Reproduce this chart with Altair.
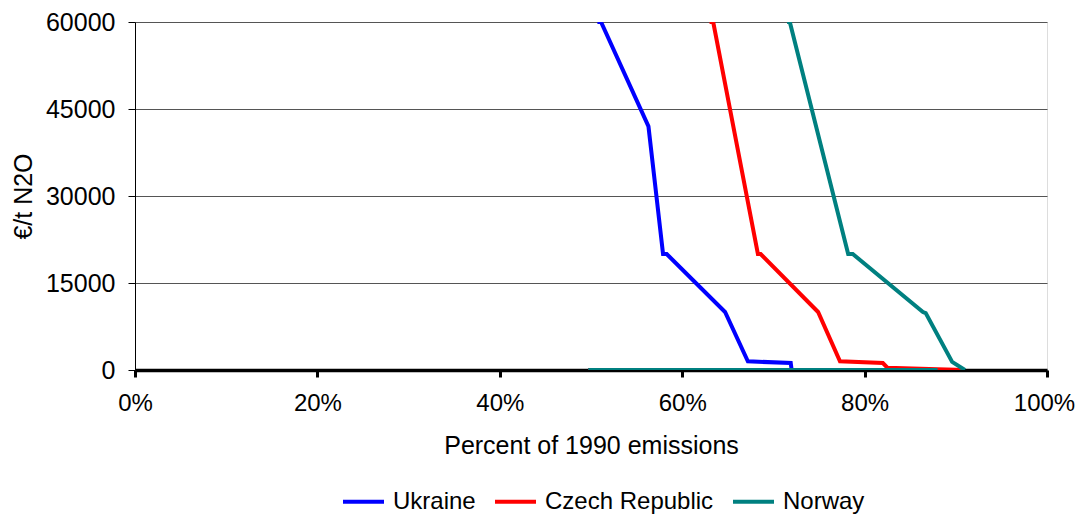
import altair as alt
import pandas as pd

series_names = ["Ukraine", "Czech Republic", "Norway"]
series_colors = ["#0000FF", "#FF0000", "#008080"]

# cost curves (percent of 1990 emissions, €/t N2O)
ukraine_x = [50.7, 51.1, 56.3, 57.9, 58.3, 64.7, 67.2, 71.9, 72.0]
ukraine_y = [60000, 60000, 42000, 20000, 20000, 10000, 1500, 1200, 0]
czech_x = [63.0, 63.4, 68.3, 68.6, 74.9, 77.3, 82.0, 82.5, 88.0, 91.0]
czech_y = [60000, 60000, 20000, 20000, 10000, 1500, 1200, 400, 150, 0]
norway_x = [71.5, 71.8, 78.2, 78.7, 86.4, 86.7, 89.6, 91.0]
norway_y = [60000, 60000, 20000, 20000, 10000, 9800, 1400, 0]

# zero-cost stretches along the axis
ukraine_zero_x = [49.7, 72.0]
czech_zero_x = [49.7, 91.0]
norway_zero_x = [49.7, 88.0]

rows = []
def add(name, seg, xs, ys):
    for i, (x, y) in enumerate(zip(xs, ys)):
        rows.append({"series": name, "seg": name + seg, "ord": i, "x": x, "y": y})

add("Ukraine", "a", ukraine_x, ukraine_y)
add("Ukraine", "z", ukraine_zero_x, [0] * len(ukraine_zero_x))
add("Czech Republic", "a", czech_x, czech_y)
add("Czech Republic", "z", czech_zero_x, [0] * len(czech_zero_x))
add("Norway", "a", norway_x, norway_y)
add("Norway", "z", norway_zero_x, [0] * len(norway_zero_x))
df = pd.DataFrame(rows)

FONT = "Liberation Sans"
FS = 25

color = alt.Color(
    "series:N",
    scale=alt.Scale(domain=series_names, range=series_colors),
    sort=series_names,
    legend=alt.Legend(
        title=None, orient="none", direction="horizontal",
        legendX=206, legendY=457, padding=0,
        symbolType="stroke", symbolSize=1681, symbolStrokeWidth=4,
        labelFontSize=24, labelFont=FONT, labelColor="#000000",
        labelOffset=7, columnPadding=11, labelLimit=400,
    ),
)

xenc = alt.X(
    "x:Q",
    scale=alt.Scale(domain=[0, 100], nice=False, zero=False),
    axis=alt.Axis(
        title="Percent of 1990 emissions", values=[0, 20, 40, 60, 80, 100],
        labelExpr="datum.value + '%'", grid=False, labelFlush=False,
        labelOffset={"condition": {"test": "datum.value === 100", "value": -3}, "value": 0},
        domainColor="#000000", domainWidth=3.5,
        tickColor="#000000", tickWidth=3, tickSize=7,
        labelFontSize=24, labelFont=FONT, labelColor="#000000", labelPadding=14,
        titleFontSize=FS, titleFont=FONT, titleFontWeight="normal", titleColor="#000000",
        titlePadding=18,
    ),
)
yenc = alt.Y(
    "y:Q",
    scale=alt.Scale(domain=[0, 60000], nice=False),
    axis=alt.Axis(
        title="€/t N2O", values=[0, 15000, 30000, 45000, 60000], format="d",
        grid=True, gridColor="#555555", gridWidth=1,
        domainColor="#000000", domainWidth=1,
        tickColor="#000000", tickWidth=1, tickSize=7,
        labelFontSize=FS, labelFont=FONT, labelColor="#000000", labelPadding=13,
        titleFontSize=FS, titleFont=FONT, titleFontWeight="normal", titleColor="#000000",
        titlePadding=9,
    ),
)

layers = []
for name in series_names:
    layers.append(
        alt.Chart(df).transform_filter(alt.datum.series == name)
        .mark_line(strokeWidth=4, clip=True)
        .encode(x=xenc, y=yenc, color=color, detail="seg:N", order="ord:Q")
    )

chart = alt.layer(*layers).properties(
    width=912, height=348,
    autosize=alt.AutoSizeParams(type="none"),
    padding={"left": 127, "top": 14, "right": 30, "bottom": 146},
).configure_view(stroke="#888888", strokeWidth=1).configure(background="#ffffff")

chart.save("out.html", embed_options={"renderer": "svg", "actions": False})
